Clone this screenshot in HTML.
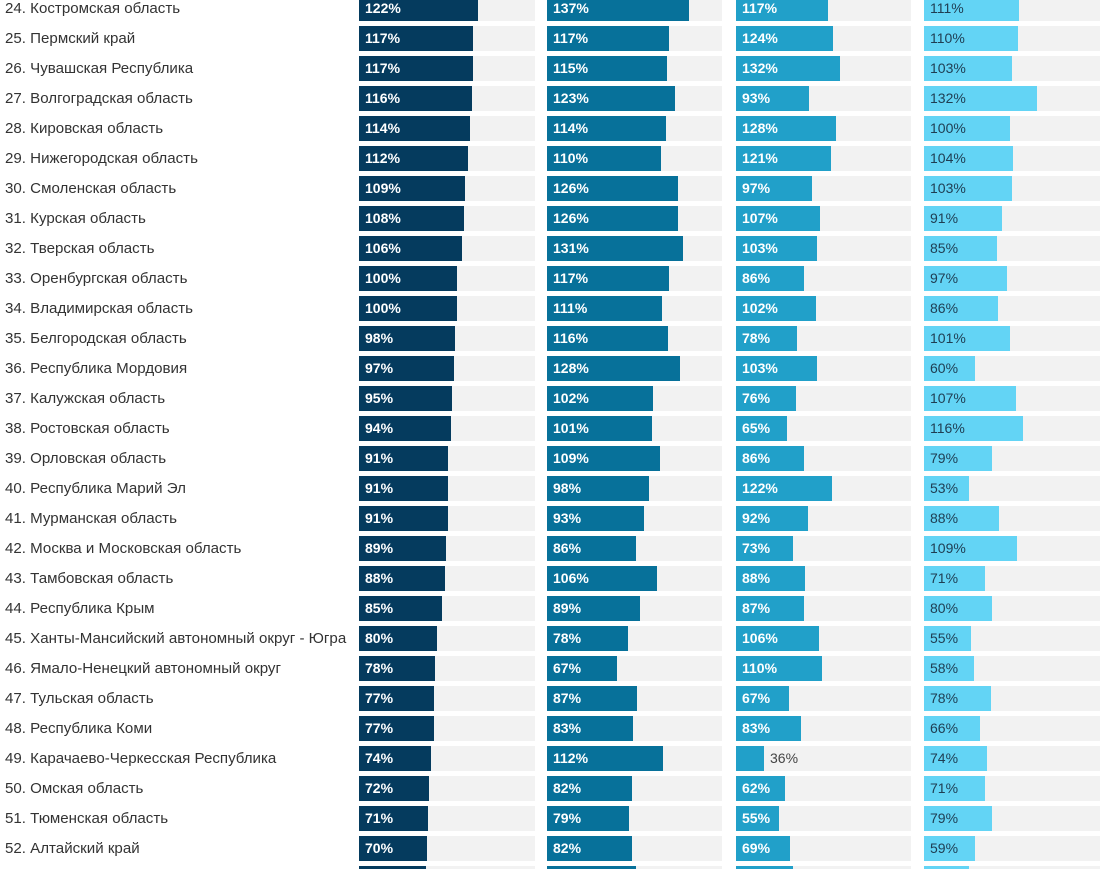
<!DOCTYPE html>
<html><head><meta charset="utf-8"><style>
html,body{margin:0;width:1115px;height:869px;overflow:hidden}
body{background:#fff;font-family:"Liberation Sans",sans-serif;position:relative}
.lab{position:absolute;left:5px;font-size:15.1px;color:#333;line-height:25px;white-space:nowrap}
.tr{position:absolute;height:25px;background:#f2f2f2}
.bar{position:absolute;height:25px}
.v{position:absolute;font-size:14px;line-height:25px;font-weight:bold;color:#fff}
</style></head><body>
<div id="c"></div>
<script>
const regions=["24. Костромская область","25. Пермский край","26. Чувашская Республика","27. Волгоградская область","28. Кировская область","29. Нижегородская область","30. Смоленская область","31. Курская область","32. Тверская область","33. Оренбургская область","34. Владимирская область","35. Белгородская область","36. Республика Мордовия","37. Калужская область","38. Ростовская область","39. Орловская область","40. Республика Марий Эл","41. Мурманская область","42. Москва и Московская область","43. Тамбовская область","44. Республика Крым","45. Ханты-Мансийский автономный округ - Югра","46. Ямало-Ненецкий автономный округ","47. Тульская область","48. Республика Коми","49. Карачаево-Черкесская Республика","50. Омская область","51. Тюменская область","52. Алтайский край",""];
const s1=[122,117,117,116,114,112,109,108,106,100,100,98,97,95,94,91,91,91,89,88,85,80,78,77,77,74,72,71,70,69];
const s2=[137,117,115,123,114,110,126,126,131,117,111,116,128,102,101,109,98,93,86,106,89,78,67,87,83,112,82,79,82,86];
const s3=[117,124,132,93,128,121,97,107,103,86,102,78,103,76,65,86,122,92,73,88,87,106,110,67,83,36,62,55,69,72];
const s4=[111,110,103,132,100,104,103,91,85,97,86,101,60,107,116,79,53,88,109,71,80,55,58,78,66,74,71,79,59,52];
const cols=[{d:s1,x:359,tw:176,k:0.975,c:"#053b5e",t:"#fff",b:true},{d:s2,x:547,tw:175,k:1.04,c:"#07719a",t:"#fff",b:true},{d:s3,x:736,tw:175,k:0.785,c:"#21a0c9",t:"#fff",b:true},{d:s4,x:924,tw:176,k:0.856,c:"#63d4f5",t:"#1f3d52",b:false}];
const root=document.getElementById('c');
function add(cls,st,txt){const e=document.createElement('div');e.className=cls;Object.assign(e.style,st);if(txt!==undefined)e.textContent=txt;root.appendChild(e);return e;}
regions.forEach((r,i)=>{
  const y=-4+30*i;
  const l=add('lab',{top:y+'px'},r);
  
  
  cols.forEach((c,j)=>{
    const t=add('tr',{left:c.x+'px',top:y+'px',width:c.tw+'px'});
    
    
    const w=Math.round(c.d[i]*c.k);
    const b=add('bar',{left:c.x+'px',top:y+'px',width:w+'px',background:c.c});
    
    
    const inside=w>36;
    const v=add('v',{left:(inside?c.x+6:c.x+w+6)+'px',top:y+'px',color:inside?c.t:'#444',fontWeight:(inside&&c.b)?'bold':'normal'},c.d[i]+'%');
    
    
  });
});
</script>
</body></html>
